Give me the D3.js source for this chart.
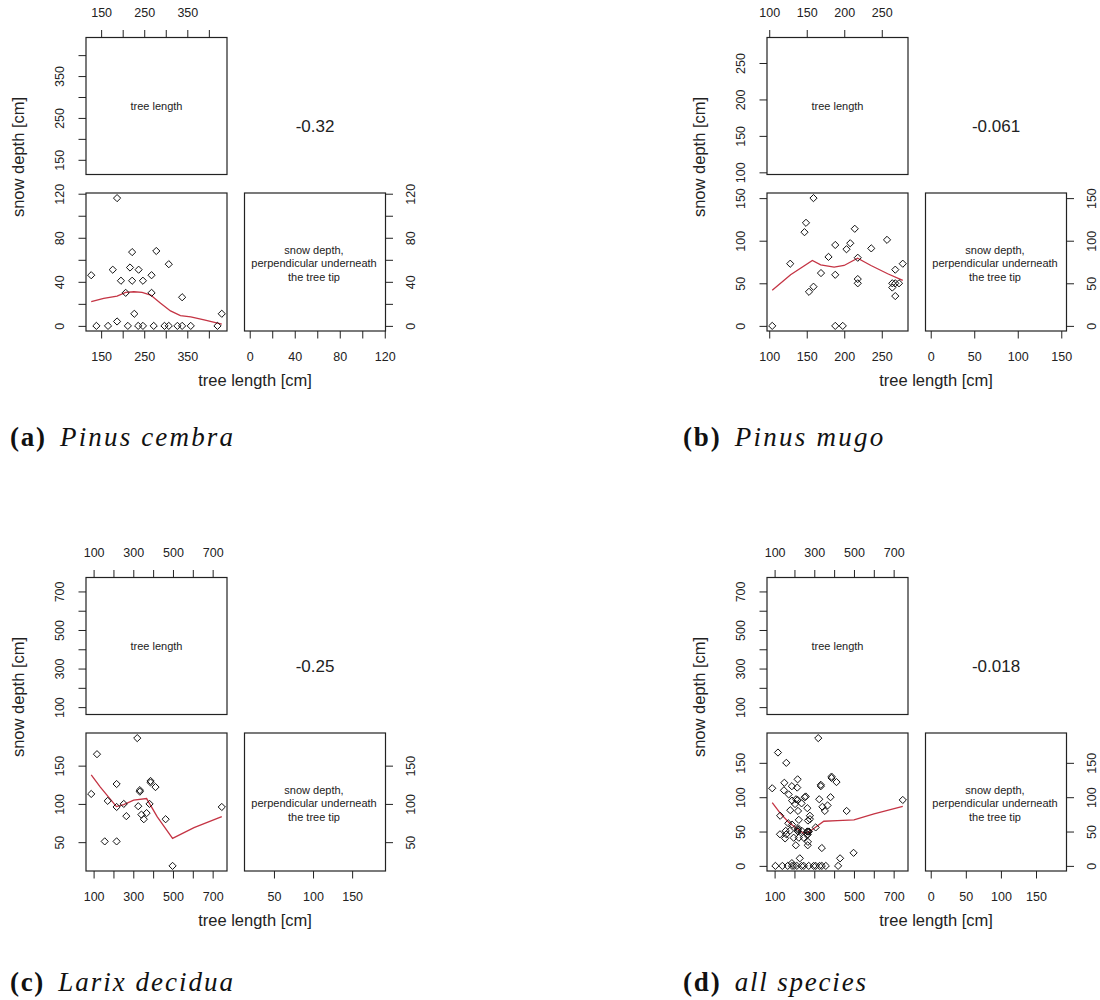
<!DOCTYPE html>
<html><head><meta charset="utf-8">
<script src="https://cdn.jsdelivr.net/npm/d3@7"></script>
<style>
body{margin:0;background:#fff}
svg{display:block}
text{font-family:"Liberation Sans",Arial,sans-serif;fill:#222}
.cap{font-family:"Liberation Serif","Times New Roman",serif;fill:#111}
</style>
</head><body><svg id="c" width="1100" height="1000"></svg>
<script>
// ---------- data ----------
const cembraTree = [127,139,166,187,187,177,196,207,212,217,222,222,227,237,236,247,247,267,267,272,278,297,307,307,327,338,338,358,420,430];
const cembraSnow = [46,0,0,116,4,51,41,30,0,53,67,41,11,51,0,0,41,46,30,0,68,0,0,56,0,0,26,0,0,11];
const cembraSmoothTree = [127,156,187,207,226,245,265,288,311,334,358,389,430];
const cembraSmoothSnow = [22,25,27,30.4,31,30.4,28,20.5,13.6,9.3,8.1,5.4,1.5];

const mugoTree = [104,128,149,147,159,153,159,169,179,188,188,188,198,203,208,214,218,218,218,236,257,264,264,268,268,268,273,278];
const mugoSnow = [0,73,121,110,150,40,46,62,81,95,60,0,0,90,97,114,80,55,50,91,101,45,50,66,35,50,50,73];
const mugoSmoothTree = [104,128.5,157.5,168.6,186.5,199.8,217.8,235.6,257.9,278];
const mugoSmoothSnow = [41.7,60,76.8,71.7,68.9,70.9,79.4,70.9,61.2,53.4];

const larixTree = [88,117,156,171,216,216,216,252,265,320,325,333,333,341,353,367,382,387,387,412,463,498,746];
const larixSnow = [113,165,51,104,126,96,51,100,84,186,97,118,116,86,80,88,100,130,128,122,80,19,96];
const larixSmoothTree = [88,134,215,252,302,367,421,498,606,746];
const larixSmoothSnow = [138,122,96.5,99,105,107,83,55,69,83.5];

const allTree = [127,139,166,187,187,177,196,207,212,217,222,222,227,237,236,247,247,267,267,272,278,297,307,307,327,338,338,358,420,430,
  104,128,149,147,159,153,159,169,179,188,188,188,198,203,208,214,218,218,218,236,257,264,264,268,268,268,273,278,
  88,117,156,171,216,216,216,252,265,320,325,333,333,341,353,367,382,387,387,412,463,498,746];
const allSnow = [46,0,0,116,4,51,41,30,0,53,67,41,11,51,0,0,41,46,30,0,68,0,0,56,0,0,26,0,0,11,
  0,73,121,110,150,40,46,62,81,95,60,0,0,90,97,114,80,55,50,91,101,45,50,66,35,50,50,73,
  113,165,51,104,126,96,51,100,84,186,97,118,116,86,80,88,100,130,128,122,80,19,96];
const allSmoothTree = [88,129,171,213,247,272,306,348,416,500,601,746];
const allSmoothSnow = [92,76.5,63.5,54,47.6,49,56.3,65,66,67,75.6,86.6];

const cembraTreeTicks = [150,200,250,300,350,400], cembraTreeLabels = [150,250,350];
const cembraSnowTicks = [0,20,40,60,80,100,120], cembraSnowLabels = [0,40,80,120];
const mugoTreeTicks = [100,150,200,250], mugoTreeLabels = [100,150,200,250];
const mugoSnowTicks = [0,50,100,150], mugoSnowLabels = [0,50,100,150];
const larixTreeTicks = [100,200,300,400,500,600,700], larixTreeLabels = [100,300,500,700];
const larixSnowTicks = [50,100,150], larixSnowLabels = [50,100,150];
const allTreeTicks = [100,200,300,400,500,600,700], allTreeLabels = [100,300,500,700];
const allSnowTicks = [0,50,100,150], allSnowLabels = [0,50,100,150];

const correlations = ["-0.32","-0.061","-0.25","-0.018"];
const captionLetters = ["(a)","(b)","(c)","(d)"];
const captionNames = ["Pinus cembra","Pinus mugo","Larix decidua","all species"];
const diagLabelTree = "tree length";
const diagLabelSnow = ["snow depth,","perpendicular underneath","the tree tip"];
const xTitle = "tree length [cm]", yTitle = "snow depth [cm]";

const panels = [
  {tree:cembraTree, snow:cembraSnow, st:cembraSmoothTree, ss:cembraSmoothSnow, tt:cembraTreeTicks, tl:cembraTreeLabels, stk:cembraSnowTicks, sl:cembraSnowLabels},
  {tree:mugoTree, snow:mugoSnow, st:mugoSmoothTree, ss:mugoSmoothSnow, tt:mugoTreeTicks, tl:mugoTreeLabels, stk:mugoSnowTicks, sl:mugoSnowLabels},
  {tree:larixTree, snow:larixSnow, st:larixSmoothTree, ss:larixSmoothSnow, tt:larixTreeTicks, tl:larixTreeLabels, stk:larixSnowTicks, sl:larixSnowLabels},
  {tree:allTree, snow:allSnow, st:allSmoothTree, ss:allSmoothSnow, tt:allTreeTicks, tl:allTreeLabels, stk:allSnowTicks, sl:allSnowLabels}
];

// ---------- layout ----------
const origins = [[0,0],[681,0],[0,540],[681,540]];
const L = {x0:86, x1:227, x2:244.5, x3:385.5, y0:37.5, y1:174.5, y2:193, y3:331};
const svg = d3.select("#c");
const ink = "#222";

function pad(e){const r=e[1]-e[0];return [e[0]-0.04*r,e[1]+0.04*r];}
function fmt(labels){return d=>labels.includes(d)?String(d):"";}

function styleAxis(sel, kind, off){
  sel.select(".domain").remove();
  sel.selectAll(".tick line").attr("stroke", ink).attr("stroke-width",1);
  const t = sel.selectAll(".tick text").attr("fill", ink).style("font-size","12.5px");
  if(kind==="left"){ t.attr("transform","rotate(-90)").attr("x",0).attr("y",-off).attr("dy","0.35em").attr("text-anchor","middle"); }
  if(kind==="right"){ t.attr("transform","rotate(-90)").attr("x",0).attr("y",off).attr("dy","0.35em").attr("text-anchor","middle"); }
  if(kind==="top"){ t.attr("y",-off).attr("dy","0.35em"); }
  if(kind==="bottom"){ t.attr("y",off).attr("dy","0.35em"); }
}

panels.forEach((p,i)=>{
  const g = svg.append("g").attr("transform",`translate(${origins[i][0]},${origins[i][1]})`);
  const tDom = pad(d3.extent(p.tree)), sDom = pad(d3.extent(p.snow));
  const xT = d3.scaleLinear().domain(tDom).range([L.x0,L.x1]);
  const yT = d3.scaleLinear().domain(tDom).range([L.y1,L.y0]);
  const yS = d3.scaleLinear().domain(sDom).range([L.y3,L.y2]);
  const xS = d3.scaleLinear().domain(sDom).range([L.x2,L.x3]);

  // boxes
  [[L.x0,L.y0,L.x1,L.y1],[L.x0,L.y2,L.x1,L.y3],[L.x2,L.y2,L.x3,L.y3]].forEach(b=>{
    g.append("rect").attr("x",b[0]).attr("y",b[1]).attr("width",b[2]-b[0]).attr("height",b[3]-b[1])
      .attr("fill","none").attr("stroke",ink).attr("stroke-width",1.2);
  });

  // axes
  g.append("g").attr("transform",`translate(0,${L.y0})`)
    .call(d3.axisTop(xT).tickValues(p.tt).tickFormat(fmt(p.tl)).tickSize(7.5)).call(s=>styleAxis(s,"top",24.5));
  g.append("g").attr("transform",`translate(${L.x0},0)`)
    .call(d3.axisLeft(yT).tickValues(p.tt).tickFormat(fmt(p.tl)).tickSize(7.5)).call(s=>styleAxis(s,"left",26));
  g.append("g").attr("transform",`translate(${L.x0},0)`)
    .call(d3.axisLeft(yS).tickValues(p.stk).tickFormat(fmt(p.sl)).tickSize(7.5)).call(s=>styleAxis(s,"left",26));
  g.append("g").attr("transform",`translate(0,${L.y3})`)
    .call(d3.axisBottom(xT).tickValues(p.tt).tickFormat(fmt(p.tl)).tickSize(7.5)).call(s=>styleAxis(s,"bottom",25.5));
  g.append("g").attr("transform",`translate(0,${L.y3})`)
    .call(d3.axisBottom(xS).tickValues(p.stk).tickFormat(fmt(p.sl)).tickSize(7.5)).call(s=>styleAxis(s,"bottom",25.5));
  g.append("g").attr("transform",`translate(${L.x3},0)`)
    .call(d3.axisRight(yS).tickValues(p.stk).tickFormat(fmt(p.sl)).tickSize(7.5)).call(s=>styleAxis(s,"right",25.5));

  // diagonal labels
  g.append("text").attr("x",(L.x0+L.x1)/2).attr("y",(L.y0+L.y1)/2).attr("dy","0.35em")
    .attr("text-anchor","middle").style("font-size","11px").text(diagLabelTree);
  diagLabelSnow.forEach((s,k)=>{
    g.append("text").attr("x",(L.x2+L.x3)/2 - 1).attr("y",250+k*13.5).attr("dy","0.35em")
      .attr("text-anchor","middle").style("font-size","11px").text(s);
  });

  // correlation
  g.append("text").attr("x",315).attr("y",126).attr("dy","0.35em").attr("text-anchor","middle")
    .style("font-size","17px").text(correlations[i]);

  // smooth line
  const line = d3.line().x(d=>xT(d[0])).y(d=>yS(d[1]));
  g.append("path").datum(p.st.map((t,k)=>[t,p.ss[k]])).attr("d",line)
    .attr("fill","none").attr("stroke","#c43444").attr("stroke-width",1.3);

  // points
  const diamond = "M0,-3.6L3.6,0L0,3.6L-3.6,0Z";
  g.append("g").selectAll("path").data(p.tree.map((t,k)=>[t,p.snow[k]])).join("path")
    .attr("transform",d=>`translate(${xT(d[0])},${yS(d[1])})`).attr("d",diamond)
    .attr("fill","none").attr("stroke","#111").attr("stroke-width",1);

  // titles
  g.append("text").attr("transform","translate(18,157) rotate(-90)").attr("dy","0.35em")
    .attr("text-anchor","middle").style("font-size","16.5px").text(yTitle);
  g.append("text").attr("x",255).attr("y",380).attr("dy","0.35em")
    .attr("text-anchor","middle").style("font-size","16.5px").text(xTitle);
});

// captions
const capX = [10,683,10,683], capY = [446,446,991,991];
const capSize = 27;
let boldK=1, italK=1;
captionLetters.forEach((c,i)=>{
  const b = svg.append("text").attr("class","cap").attr("x",capX[i]).attr("y",capY[i])
    .style("font-size",capSize+"px").style("font-weight","bold").text(c);
  const it = svg.append("text").attr("class","cap").attr("y",capY[i])
    .style("font-size",capSize+"px").style("font-style","italic").text(captionNames[i]);
  if(i===0){ boldK = 35/b.node().getComputedTextLength(); italK = 173/it.node().getComputedTextLength(); }
  const bw = b.node().getComputedTextLength()*boldK;
  b.attr("textLength",bw).attr("lengthAdjust","spacing");
  const iw = it.node().getComputedTextLength()*italK;
  it.attr("x",capX[i]+bw+15).attr("textLength",iw).attr("lengthAdjust","spacing");
});
</script>
</body></html>
